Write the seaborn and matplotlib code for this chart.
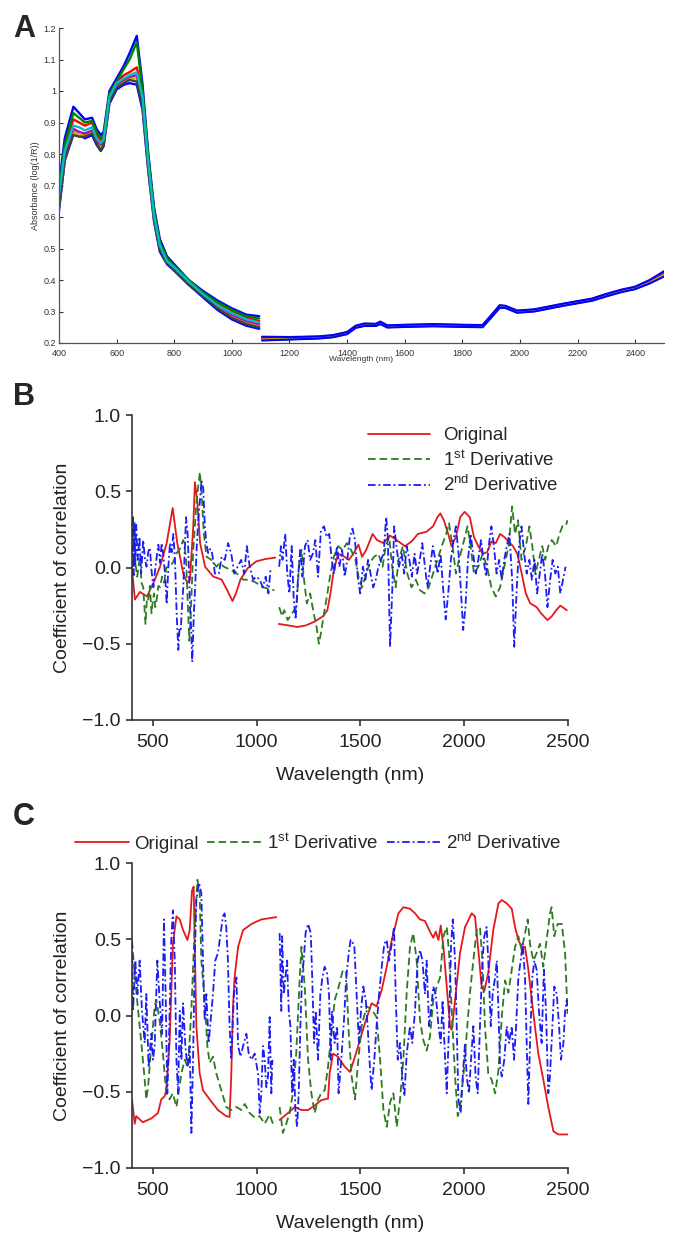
import numpy as np
import matplotlib
matplotlib.use("Agg")
import matplotlib.pyplot as plt
from matplotlib.lines import Line2D
import seaborn as sns

# ---------------- panel A : absorbance spectra ----------------
a_vis_nm = [400, 420, 450, 470, 490, 515, 530, 545, 555, 575, 600, 625, 645,
            670, 690, 710, 730, 750, 775, 800, 850, 900, 950, 1000, 1050, 1095]
a_nir_nm = [1105, 1200, 1300, 1350, 1400, 1430, 1460, 1500, 1515, 1540, 1600,
            1700, 1800, 1870, 1900, 1930, 1950, 1990, 2050, 2100, 2150, 2200,
            2250, 2300, 2350, 2400, 2450, 2500]

a_vis_1 = [0.70, 0.85, 0.95, 0.93, 0.91, 0.915, 0.88, 0.86, 0.87, 1.00, 1.04, 1.08, 1.12,
           1.175, 1.02, 0.80, 0.63, 0.53, 0.475, 0.45, 0.40, 0.365, 0.335, 0.31, 0.29, 0.285]
a_vis_2 = [0.68, 0.83, 0.93, 0.915, 0.90, 0.905, 0.87, 0.85, 0.86, 0.99, 1.03, 1.07, 1.10,
           1.155, 1.00, 0.79, 0.62, 0.52, 0.47, 0.445, 0.40, 0.36, 0.33, 0.305, 0.285, 0.278]
a_vis_3 = [0.66, 0.82, 0.91, 0.90, 0.89, 0.90, 0.86, 0.84, 0.85, 0.99, 1.03, 1.05, 1.06,
           1.075, 0.99, 0.78, 0.61, 0.515, 0.465, 0.44, 0.395, 0.36, 0.325, 0.30, 0.28, 0.27]
a_vis_4 = [0.67, 0.81, 0.89, 0.885, 0.875, 0.885, 0.85, 0.835, 0.845, 0.98, 1.025, 1.04, 1.05,
           1.06, 0.98, 0.77, 0.605, 0.51, 0.46, 0.44, 0.395, 0.355, 0.32, 0.295, 0.275, 0.265]
a_vis_5 = [0.65, 0.80, 0.88, 0.87, 0.865, 0.875, 0.845, 0.83, 0.84, 0.975, 1.02, 1.035, 1.045,
           1.05, 0.97, 0.765, 0.60, 0.505, 0.46, 0.435, 0.39, 0.355, 0.32, 0.29, 0.27, 0.26]
a_vis_6 = [0.64, 0.79, 0.87, 0.86, 0.86, 0.87, 0.84, 0.82, 0.835, 0.97, 1.015, 1.03, 1.04,
           1.04, 0.96, 0.76, 0.595, 0.50, 0.455, 0.435, 0.39, 0.35, 0.315, 0.285, 0.265, 0.255]
a_vis_7 = [0.63, 0.78, 0.86, 0.855, 0.855, 0.865, 0.835, 0.81, 0.83, 0.965, 1.01, 1.025, 1.035,
           1.03, 0.95, 0.75, 0.59, 0.495, 0.455, 0.43, 0.385, 0.35, 0.31, 0.28, 0.26, 0.25]
a_vis_8 = [0.62, 0.78, 0.87, 0.86, 0.85, 0.86, 0.83, 0.81, 0.825, 0.96, 1.005, 1.02, 1.025,
           1.02, 0.94, 0.745, 0.585, 0.49, 0.45, 0.43, 0.385, 0.345, 0.305, 0.275, 0.255, 0.245]

a_nir_1 = [0.220, 0.219, 0.221, 0.225, 0.235, 0.255, 0.262, 0.261, 0.268, 0.256, 0.258, 0.260, 0.258, 0.257,
           0.288, 0.320, 0.318, 0.303, 0.307, 0.316, 0.325, 0.333, 0.341, 0.356, 0.369, 0.379, 0.400, 0.428]
a_nir_2 = [0.218, 0.218, 0.220, 0.224, 0.234, 0.254, 0.261, 0.260, 0.267, 0.255, 0.257, 0.259, 0.257, 0.256,
           0.287, 0.319, 0.317, 0.302, 0.306, 0.315, 0.324, 0.332, 0.340, 0.355, 0.367, 0.377, 0.398, 0.425]
a_nir_3 = [0.216, 0.216, 0.219, 0.223, 0.233, 0.253, 0.259, 0.259, 0.265, 0.254, 0.256, 0.258, 0.256, 0.255,
           0.286, 0.318, 0.316, 0.301, 0.305, 0.314, 0.323, 0.331, 0.339, 0.353, 0.366, 0.376, 0.396, 0.422]
a_nir_4 = [0.214, 0.215, 0.218, 0.222, 0.232, 0.252, 0.258, 0.258, 0.264, 0.253, 0.255, 0.257, 0.255, 0.254,
           0.285, 0.317, 0.315, 0.300, 0.304, 0.313, 0.322, 0.330, 0.338, 0.352, 0.365, 0.375, 0.395, 0.420]
a_nir_5 = [0.212, 0.214, 0.217, 0.221, 0.231, 0.251, 0.257, 0.257, 0.263, 0.252, 0.254, 0.256, 0.254, 0.253,
           0.284, 0.316, 0.314, 0.299, 0.303, 0.312, 0.321, 0.329, 0.337, 0.351, 0.364, 0.374, 0.393, 0.418]
a_nir_6 = [0.211, 0.213, 0.216, 0.220, 0.230, 0.250, 0.256, 0.256, 0.262, 0.251, 0.253, 0.255, 0.253, 0.252,
           0.283, 0.315, 0.313, 0.298, 0.302, 0.311, 0.320, 0.328, 0.336, 0.350, 0.363, 0.373, 0.392, 0.416]
a_nir_7 = [0.209, 0.212, 0.215, 0.219, 0.229, 0.249, 0.255, 0.255, 0.261, 0.250, 0.252, 0.254, 0.252, 0.251,
           0.281, 0.313, 0.312, 0.297, 0.301, 0.310, 0.319, 0.327, 0.335, 0.349, 0.362, 0.372, 0.390, 0.413]
a_nir_8 = [0.208, 0.211, 0.214, 0.218, 0.228, 0.248, 0.254, 0.254, 0.260, 0.249, 0.251, 0.253, 0.251, 0.250,
           0.280, 0.312, 0.311, 0.296, 0.300, 0.309, 0.318, 0.326, 0.334, 0.348, 0.361, 0.371, 0.389, 0.411]

a_yticks = [0.2, 0.3, 0.4, 0.5, 0.6, 0.7, 0.8, 0.9, 1.0, 1.1, 1.2]
a_ytick_labels = ["0.2", "0.3", "0.4", "0.5", "0.6", "0.7", "0.8", "0.9", "1", "1.1", "1.2"]
a_xticks = [400, 600, 800, 1000, 1200, 1400, 1600, 1800, 2000, 2200, 2400]

# ---------------- panel B : correlation, set 1 ----------------
b_orig_vis_nm = [400, 405, 414, 438, 472, 510, 535, 567, 596, 618, 647, 666, 679, 695, 703, 714, 728,
                 752, 792, 832, 859, 884, 901, 922, 957, 998, 1040, 1090]
b_orig_vis = [-0.02, -0.08, -0.21, -0.16, -0.19, -0.08, 0.005, 0.16, 0.39, 0.16, -0.04, -0.10, -0.08,
              0.27, 0.56, 0.44, 0.16, 0.005, -0.06, -0.08, -0.15, -0.22, -0.17, -0.08, -0.005, 0.04,
              0.055, 0.065]
b_orig_nir_nm = [1107, 1154, 1196, 1237, 1279, 1320, 1341, 1356, 1372, 1393, 1424, 1445, 1466, 1491,
                 1508, 1528, 1559, 1580, 1611, 1642, 1674, 1715, 1746, 1777, 1819, 1850, 1871, 1885,
                 1902, 1923, 1939, 1960, 1981, 2002, 2027, 2047, 2068, 2089, 2110, 2131, 2152, 2173,
                 2193, 2214, 2235, 2256, 2277, 2297, 2318, 2349, 2370, 2401, 2422, 2443, 2463, 2494]
b_orig_nir = [-0.37, -0.38, -0.39, -0.38, -0.355, -0.32, -0.28, -0.17, -0.015, 0.09, 0.07, 0.05, 0.09,
              0.15, 0.07, 0.115, 0.22, 0.18, 0.16, 0.21, 0.18, 0.14, 0.17, 0.22, 0.235, 0.27, 0.33,
              0.355, 0.31, 0.22, 0.14, 0.20, 0.33, 0.365, 0.33, 0.20, 0.14, 0.09, 0.10, 0.17, 0.16,
              0.22, 0.20, 0.17, 0.14, 0.09, -0.04, -0.17, -0.235, -0.26, -0.30, -0.345, -0.32, -0.28,
              -0.25, -0.28]

b_d1_vis_nm = [400, 405, 414, 425, 438, 446, 454, 465, 472, 478, 486, 494, 500, 506, 512, 519, 527,
               535, 545, 555, 565, 583, 600, 615, 630, 647, 660, 668, 676, 682, 695, 711, 727, 735,
               746, 759, 783, 807, 822, 843, 874, 905, 936, 967, 998, 1030, 1061, 1086]
b_d1_vis = [0.30, 0.31, 0.05, -0.06, 0.07, -0.10, -0.13, -0.37, -0.20, -0.21, -0.12, -0.30, -0.22,
            -0.17, -0.26, -0.21, -0.12, -0.13, -0.06, -0.10, 0.0, 0.005, 0.04, 0.095, 0.12, 0.18, 0.07,
            -0.21, -0.48, -0.34, 0.115, 0.44, 0.625, 0.49, 0.22, 0.07, 0.05, 0.005, 0.03, 0.005,
            -0.015, -0.04, -0.08, -0.08, -0.10, -0.13, -0.14, -0.15]
b_d1_nir_nm = [1109, 1123, 1133, 1150, 1171, 1192, 1206, 1217, 1227, 1242, 1258, 1275, 1289, 1300,
               1310, 1325, 1341, 1356, 1372, 1393, 1414, 1435, 1455, 1476, 1491, 1508, 1524, 1545,
               1566, 1587, 1607, 1622, 1639, 1653, 1670, 1684, 1705, 1726, 1746, 1767, 1788, 1809,
               1829, 1850, 1871, 1892, 1913, 1927, 1944, 1960, 1975, 1996, 2016, 2031, 2047, 2068,
               2089, 2110, 2131, 2152, 2173, 2193, 2214, 2231, 2245, 2259, 2276, 2297, 2314, 2328,
               2343, 2359, 2376, 2390, 2405, 2422, 2443, 2459, 2473, 2488, 2498]
b_d1_nir = [-0.26, -0.32, -0.28, -0.345, -0.30, -0.26, 0.05, 0.115, -0.06, -0.235, -0.17, -0.30,
            -0.39, -0.50, -0.43, -0.30, -0.17, -0.04, 0.07, 0.14, 0.115, 0.16, 0.115, 0.05, -0.06,
            -0.13, -0.06, 0.03, 0.07, 0.09, 0.005, 0.14, 0.20, 0.005, -0.13, 0.05, 0.14, -0.04,
            -0.13, -0.08, -0.15, -0.17, -0.13, -0.04, 0.05, 0.14, 0.22, 0.29, 0.14, -0.04, 0.05,
            0.16, 0.27, 0.14, -0.04, 0.005, 0.09, 0.005, -0.13, -0.19, -0.13, 0.005, 0.14, 0.40,
            0.22, 0.31, 0.05, 0.14, 0.27, 0.14, -0.04, 0.05, 0.14, 0.05, 0.14, 0.18, 0.14, 0.22,
            0.27, 0.27, 0.31]

b_d2_vis_nm = [400, 404, 408, 412, 416, 420, 428, 436, 444, 454, 462, 470, 478, 486, 494, 503, 511,
               519, 527, 535, 543, 551, 559, 567, 575, 583, 591, 599, 607, 615, 623, 629, 635, 641,
               647, 654, 660, 668, 674, 679, 685, 690, 698, 705, 711, 719, 727, 735, 743, 751, 759,
               767, 775, 783, 791, 799, 818, 832, 847, 863, 878, 893, 909, 926, 940, 953, 967, 984,
               998, 1015, 1030, 1044, 1057, 1067]
b_d2_vis = [0.0, 0.33, -0.05, 0.30, 0.02, 0.28, 0.05, 0.20, -0.04, 0.18, 0.06, 0.005, 0.10, 0.13,
            -0.02, -0.13, -0.02, 0.07, 0.15, 0.03, 0.16, 0.08, -0.04, -0.24, 0.0, 0.16, 0.10, 0.22,
            0.05, -0.30, -0.54, -0.40, -0.41, -0.25, -0.13, 0.10, 0.33, 0.22, 0.0, -0.25, -0.40,
            -0.62, -0.30, -0.10, 0.115, 0.30, 0.44, 0.57, 0.52, 0.27, 0.15, 0.095, 0.12, 0.115,
            0.05, -0.04, -0.04, 0.07, 0.05, 0.16, 0.09, -0.04, 0.005, 0.05, -0.04, 0.14, 0.005,
            -0.08, -0.06, -0.08, -0.13, -0.06, -0.17, -0.015]
b_d2_nir_nm = [1109, 1117, 1125, 1138, 1148, 1158, 1169, 1179, 1188, 1200, 1210, 1221, 1233, 1246,
               1258, 1271, 1283, 1296, 1310, 1325, 1337, 1350, 1362, 1374, 1387, 1399, 1412, 1424,
               1437, 1449, 1462, 1474, 1487, 1499, 1512, 1524, 1537, 1549, 1562, 1574, 1587, 1599,
               1612, 1624, 1632, 1643, 1653, 1663, 1674, 1686, 1699, 1711, 1723, 1736, 1748, 1761,
               1773, 1786, 1798, 1811, 1823, 1836, 1849, 1861, 1873, 1886, 1898, 1911, 1923, 1936,
               1948, 1960, 1973, 1985, 1995, 2006, 2018, 2031, 2043, 2056, 2068, 2081, 2093, 2106,
               2118, 2131, 2143, 2156, 2168, 2181, 2193, 2205, 2218, 2231, 2241, 2252, 2264, 2276,
               2289, 2301, 2314, 2326, 2339, 2351, 2364, 2376, 2389, 2401, 2414, 2426, 2439, 2451,
               2463, 2476, 2488]
b_d2_nir = [0.005, 0.14, 0.05, 0.22, -0.04, -0.17, 0.14, -0.21, -0.34, -0.06, 0.115, -0.06, 0.14,
            0.18, 0.05, 0.09, 0.18, -0.06, 0.245, 0.27, 0.20, 0.22, 0.05, -0.04, 0.14, 0.005, 0.115,
            -0.06, 0.05, 0.20, 0.255, 0.18, -0.06, -0.17, 0.005, -0.08, 0.05, -0.04, -0.13, -0.08,
            0.005, 0.05, 0.09, 0.33, 0.20, -0.52, -0.17, 0.27, 0.14, 0.005, 0.09, -0.04, 0.14, 0.05,
            -0.06, 0.09, -0.04, 0.05, 0.16, 0.005, -0.13, 0.005, 0.14, 0.05, -0.04, 0.09, -0.13,
            -0.34, -0.17, 0.05, 0.18, 0.27, 0.09, -0.17, -0.41, -0.26, 0.05, 0.22, 0.09, -0.04,
            0.05, 0.18, 0.05, -0.06, 0.14, 0.27, 0.14, -0.04, 0.05, -0.08, 0.05, 0.14, 0.22, -0.08,
            -0.52, -0.17, 0.14, 0.27, 0.09, -0.04, 0.05, -0.08, 0.05, -0.17, -0.04, 0.09, -0.04,
            -0.26, -0.08, 0.05, -0.04, 0.005, -0.17, -0.08, 0.005]

# ---------------- panel C : correlation, set 2 ----------------
c_orig_vis_nm = [400, 413, 420, 452, 493, 525, 541, 557, 565, 581, 597, 614, 630, 646, 667, 678, 689,
                 697, 702, 710, 726, 742, 774, 814, 854, 870, 878, 886, 894, 911, 935, 975, 1023, 1095]
c_orig_vis = [-0.55, -0.71, -0.66, -0.70, -0.675, -0.64, -0.55, -0.53, -0.49, -0.18, 0.47, 0.65,
              0.63, 0.56, 0.495, 0.56, 0.82, 0.845, 0.47, -0.07, -0.38, -0.49, -0.55, -0.62, -0.66,
              -0.665, -0.40, 0.04, 0.25, 0.45, 0.56, 0.60, 0.63, 0.645]
c_orig_nir_nm = [1111, 1151, 1184, 1216, 1248, 1280, 1312, 1344, 1352, 1368, 1392, 1424, 1450, 1474,
                 1498, 1522, 1554, 1578, 1603, 1627, 1651, 1667, 1683, 1707, 1739, 1763, 1787, 1811,
                 1835, 1851, 1863, 1876, 1887, 1900, 1916, 1932, 1940, 1956, 1980, 2004, 2036, 2052,
                 2068, 2084, 2097, 2116, 2140, 2165, 2181, 2205, 2229, 2245, 2261, 2277, 2293, 2309,
                 2333, 2357, 2381, 2405, 2430, 2454, 2498]
c_orig_nir = [-0.685, -0.64, -0.60, -0.62, -0.62, -0.59, -0.555, -0.545, -0.38, -0.25, -0.27, -0.335,
              -0.37, -0.27, -0.16, -0.05, 0.08, 0.06, 0.17, 0.32, 0.495, 0.58, 0.67, 0.71, 0.70,
              0.67, 0.63, 0.62, 0.55, 0.51, 0.55, 0.495, 0.59, 0.45, 0.19, -0.07, -0.095, 0.10,
              0.41, 0.58, 0.67, 0.65, 0.43, 0.19, 0.16, 0.28, 0.56, 0.735, 0.757, 0.735, 0.70, 0.58,
              0.495, 0.45, 0.45, 0.30, 0.015, -0.25, -0.42, -0.60, -0.76, -0.78, -0.78]

c_d1_vis_nm = [400, 413, 429, 445, 461, 469, 477, 493, 509, 517, 533, 549, 565, 581, 597, 614, 638,
               654, 670, 686, 702, 715, 726, 734, 750, 763, 774, 790, 806, 830, 854, 878, 903, 927,
               943, 967, 991, 1015, 1039, 1063, 1079, 1090]
c_d1_vis = [0.49, 0.27, 0.04, -0.18, -0.42, -0.55, -0.47, -0.20, 0.06, 0.10, -0.03, -0.25, -0.51,
            -0.55, -0.51, -0.60, -0.38, -0.29, -0.34, 0.04, 0.58, 0.89, 0.80, 0.36, 0.10, -0.20,
            -0.31, -0.27, -0.38, -0.49, -0.60, -0.62, -0.60, -0.62, -0.58, -0.64, -0.67, -0.66,
            -0.71, -0.65, -0.71, -0.69]
c_d1_nir_nm = [1111, 1127, 1143, 1159, 1175, 1191, 1208, 1216, 1232, 1248, 1264, 1280, 1296, 1312,
               1328, 1344, 1360, 1376, 1392, 1416, 1432, 1442, 1458, 1474, 1490, 1506, 1530, 1554,
               1578, 1595, 1611, 1627, 1643, 1659, 1675, 1691, 1707, 1723, 1739, 1755, 1771, 1787,
               1803, 1819, 1835, 1851, 1868, 1884, 1900, 1916, 1927, 1940, 1956, 1969, 1980, 1996,
               2012, 2028, 2044, 2060, 2076, 2088, 2100, 2116, 2132, 2149, 2165, 2181, 2197, 2213,
               2229, 2245, 2261, 2277, 2293, 2306, 2317, 2333, 2349, 2365, 2381, 2397, 2413, 2421,
               2434, 2450, 2470, 2486, 2498]
c_d1_nir = [-0.60, -0.77, -0.71, -0.64, -0.51, -0.25, 0.25, 0.45, 0.19, -0.29, -0.51, -0.64, -0.55,
            -0.51, -0.49, -0.34, -0.12, 0.10, 0.17, 0.30, 0.28, -0.07, -0.40, -0.55, -0.29, -0.07,
            0.06, 0.04, -0.01, -0.29, -0.62, -0.73, -0.57, -0.51, -0.73, -0.55, -0.29, 0.15, 0.45,
            0.54, 0.36, -0.03, -0.16, -0.23, -0.14, 0.10, 0.19, 0.25, 0.52, 0.58, 0.41, 0.03, -0.40,
            -0.66, -0.60, -0.40, -0.12, 0.15, 0.36, 0.56, 0.58, 0.36, -0.07, -0.38, -0.42, -0.51,
            -0.36, -0.01, 0.23, 0.15, 0.30, 0.45, 0.52, 0.43, 0.54, 0.63, 0.47, 0.36, 0.41, 0.47,
            0.32, 0.495, 0.67, 0.71, 0.52, 0.60, 0.60, 0.41, 0.01]

c_d2_vis_nm = [400, 405, 416, 426, 437, 448, 461, 469, 480, 493, 501, 509, 522, 533, 545, 554, 562,
               570, 578, 589, 597, 606, 614, 622, 630, 638, 646, 657, 667, 678, 686, 694, 702, 710,
               723, 734, 742, 750, 758, 769, 779, 790, 801, 814, 827, 838, 846, 854, 862, 870, 878,
               891, 903, 911, 923, 935, 951, 962, 975, 991, 1007, 1015, 1023, 1031, 1039, 1047,
               1055, 1063, 1071, 1076]
c_d2_vis = [0.49, 0.03, 0.36, 0.14, 0.36, 0.03, -0.18, 0.14, -0.34, -0.12, -0.29, -0.20, 0.36, 0.10,
            -0.12, 0.63, 0.14, -0.51, -0.18, 0.495, 0.69, 0.36, -0.29, -0.51, 0.03, -0.29, 0.08,
            -0.20, -0.34, -0.20, -0.77, -0.29, 0.36, 0.76, 0.87, 0.80, 0.36, -0.03, 0.14, -0.18,
            -0.03, 0.14, 0.36, 0.41, 0.54, 0.65, 0.67, 0.58, 0.36, -0.07, -0.29, 0.14, 0.25, -0.20,
            -0.27, -0.20, -0.12, -0.25, -0.29, -0.25, -0.38, -0.64, -0.51, -0.20, -0.29, -0.47,
            -0.40, -0.01, -0.51, -0.29]
c_d2_nir_nm = [1111, 1119, 1123, 1131, 1139, 1147, 1155, 1163, 1171, 1179, 1187, 1195, 1203, 1211,
               1219, 1227, 1236, 1248, 1261, 1268, 1277, 1285, 1296, 1307, 1317, 1328, 1339, 1349,
               1357, 1363, 1376, 1388, 1395, 1408, 1421, 1432, 1444, 1453, 1458, 1471, 1482, 1493,
               1503, 1514, 1526, 1535, 1546, 1554, 1567, 1578, 1590, 1603, 1615, 1627, 1638, 1651,
               1662, 1670, 1680, 1691, 1702, 1712, 1723, 1739, 1750, 1763, 1776, 1787, 1799, 1811,
               1819, 1831, 1840, 1851, 1863, 1876, 1887, 1896, 1908, 1916, 1927, 1937, 1945, 1956,
               1964, 1972, 1983, 1993, 2004, 2012, 2023, 2033, 2044, 2055, 2065, 2076, 2088, 2097,
               2108, 2116, 2128, 2137, 2149, 2157, 2165, 2173, 2181, 2193, 2205, 2216, 2229, 2240,
               2250, 2261, 2272, 2282, 2293, 2301, 2309, 2317, 2328, 2338, 2349, 2360, 2373, 2384,
               2394, 2405, 2413, 2425, 2434, 2446, 2457, 2466, 2478, 2486, 2494, 2498]
c_d2_nir = [0.54, 0.03, 0.52, 0.14, 0.25, 0.36, 0.03, -0.07, -0.51, -0.29, -0.62, -0.73, -0.51, -0.07,
            0.25, 0.36, 0.54, 0.60, 0.54, 0.25, -0.18, 0.03, -0.29, 0.14, 0.25, 0.32, 0.28, 0.14,
            -0.29, 0.03, -0.18, -0.07, -0.51, -0.29, -0.03, 0.25, 0.41, 0.495, 0.495, 0.45, 0.14,
            -0.18, 0.03, 0.19, 0.10, -0.07, -0.34, -0.49, -0.29, -0.07, 0.14, 0.32, 0.47, 0.495,
            0.36, 0.47, 0.58, 0.14, -0.29, -0.18, -0.40, -0.53, -0.25, -0.07, -0.18, 0.03, 0.36,
            0.43, 0.36, 0.14, 0.36, -0.07, 0.03, 0.19, 0.14, -0.07, -0.18, 0.10, -0.29, -0.51, -0.07,
            0.47, 0.63, 0.36, -0.07, -0.55, -0.64, -0.40, -0.18, -0.40, -0.51, -0.29, -0.07, -0.40,
            -0.51, -0.07, 0.36, 0.52, 0.58, 0.36, -0.07, 0.14, 0.25, 0.36, 0.03, -0.34, -0.40, -0.29,
            -0.07, -0.18, -0.07, -0.29, -0.07, 0.25, 0.36, 0.47, 0.25, -0.18, -0.58, -0.18, 0.25,
            0.36, 0.30, 0.03, -0.18, 0.30, 0.03, -0.51, -0.40, -0.07, 0.19, 0.14, -0.07, -0.29,
            -0.18, 0.03, 0.10, 0.03]

series_labels = ["Original", r"1$^{\mathrm{st}}$ Derivative", r"2$^{\mathrm{nd}}$ Derivative"]
corr_xticks = [500, 1000, 1500, 2000, 2500]
corr_yticks = [-1.0, -0.5, 0.0, 0.5, 1.0]

# ---------------- style ----------------
sns.set_style("ticks")
plt.rcParams["font.family"] = ["Liberation Sans", "DejaVu Sans"]
plt.rcParams["mathtext.fontset"] = "custom"
plt.rcParams["mathtext.rm"] = "Liberation Sans"
plt.rcParams["mathtext.it"] = "Liberation Sans:italic"
plt.rcParams["mathtext.bf"] = "Liberation Sans:bold"

RED = "#e3191c"
GREEN = "#2e7a20"
BLUE = "#1c1cf5"
DASH = (0, (4.2, 2.2))
DASHDOT = (0, (4.2, 1.6, 1.0, 1.6))
matlab_cols = [(0, 0, 1), (0, 0.5, 0), (1, 0, 0), (0, 0.75, 0.75),
               (0.75, 0, 0.75), (0.75, 0.75, 0), (0.25, 0.25, 0.25), (0, 0, 1)]

W, H = 676, 1249
fig = plt.figure(figsize=(W / 100, H / 100), dpi=100)
axA = fig.add_axes([59 / W, 1 - 343 / H, 605 / W, 315 / H])
axB = fig.add_axes([132 / W, 1 - 720 / H, 436 / W, 305 / H])
axC = fig.add_axes([132 / W, 1 - 1168 / H, 436 / W, 305 / H])

# panel A
vis_list = [a_vis_1, a_vis_2, a_vis_3, a_vis_4, a_vis_5, a_vis_6, a_vis_7, a_vis_8]
nir_list = [a_nir_1, a_nir_2, a_nir_3, a_nir_4, a_nir_5, a_nir_6, a_nir_7, a_nir_8]
order = [7, 0, 5, 2, 4, 1, 6, 3]
for i in order:
    sns.lineplot(x=a_vis_nm, y=vis_list[i], color=matlab_cols[i], linewidth=1.7, ax=axA)
# NIR curves sit almost on top of each other: draw them in a different order
for i in [3, 6, 1, 4, 2, 5, 0, 7]:
    sns.lineplot(x=a_nir_nm, y=nir_list[i], color=matlab_cols[i], linewidth=1.5, ax=axA)

axA.set_xlim(400, 2500)
axA.set_ylim(0.2, 1.2)
axA.set_xticks(a_xticks)
axA.set_yticks(a_yticks)
axA.set_yticklabels(a_ytick_labels)
sns.despine(ax=axA)
for s in ["left", "bottom"]:
    axA.spines[s].set_color("#555555")
    axA.spines[s].set_linewidth(0.9)
axA.tick_params(axis="x", direction="in", length=3, width=0.8, labelsize=6.5, colors="#333333", pad=4)
axA.tick_params(axis="y", direction="in", length=3, width=0.8, labelsize=6.5, colors="#333333", pad=2)
axA.set_xlabel("Wavelength (nm)", fontsize=6, color="#333333")
axA.set_ylabel("Absorbance (log(1/R))", fontsize=6.5, color="#333333")
axA.xaxis.set_label_coords(0.5, -0.042)
axA.yaxis.set_label_coords(-0.031, 0.5)


def corr_panel(ax, orig, d1, d2):
    for (nm, vals) in orig:
        sns.lineplot(x=nm, y=vals, color=RED, linewidth=1.3, ax=ax)
    for (nm, vals) in d1:
        sns.lineplot(x=nm, y=vals, color=GREEN, linewidth=1.3, linestyle=DASH, ax=ax)
    for (nm, vals) in d2:
        sns.lineplot(x=nm, y=vals, color=BLUE, linewidth=1.3, linestyle=DASHDOT, ax=ax)
    ax.set_xlim(400, 2500)
    ax.set_ylim(-1.0, 1.0)
    ax.set_xticks(corr_xticks)
    ax.set_yticks(corr_yticks)
    ax.set_yticklabels(["\u22121.0", "\u22120.5", "0.0", "0.5", "1.0"])
    sns.despine(ax=ax)
    for s in ["left", "bottom"]:
        ax.spines[s].set_color("#333333")
        ax.spines[s].set_linewidth(1.2)
    ax.tick_params(axis="x", direction="out", length=4, width=1.1, labelsize=14, pad=6, colors="#222222")
    ax.tick_params(axis="y", direction="out", length=4, width=1.1, labelsize=14, pad=4, colors="#222222")
    ax.set_xlabel("Wavelength (nm)", fontsize=14, color="#222222")
    ax.set_ylabel("Coefficient of correlation", fontsize=14, color="#222222")
    ax.xaxis.set_label_coords(0.5, -0.155)
    ax.yaxis.set_label_coords(-0.14, 0.5)


corr_panel(axB, [(b_orig_vis_nm, b_orig_vis), (b_orig_nir_nm, b_orig_nir)],
           [(b_d1_vis_nm, b_d1_vis), (b_d1_nir_nm, b_d1_nir)],
           [(b_d2_vis_nm, b_d2_vis), (b_d2_nir_nm, b_d2_nir)])
corr_panel(axC, [(c_orig_vis_nm, c_orig_vis), (c_orig_nir_nm, c_orig_nir)],
           [(c_d1_vis_nm, c_d1_vis), (c_d1_nir_nm, c_d1_nir)],
           [(c_d2_vis_nm, c_d2_vis), (c_d2_nir_nm, c_d2_nir)])

handles = [Line2D([], [], color=RED, lw=1.3),
           Line2D([], [], color=GREEN, lw=1.3, linestyle=DASH),
           Line2D([], [], color=BLUE, lw=1.3, linestyle=DASHDOT)]

axB.legend(handles, series_labels, loc="upper left", bbox_to_anchor=(0.541, 0.96),
           frameon=False, fontsize=13.5, handlelength=3.3, handletextpad=0.7,
           labelspacing=0.3, borderpad=0, borderaxespad=0)
axC.legend(handles, series_labels, loc="center left", bbox_to_anchor=(-0.131, 1.066),
           frameon=False, fontsize=13.5, ncol=3, handlelength=2.9, handletextpad=0.28,
           columnspacing=0.45, borderpad=0, borderaxespad=0)

for letter, yb in [("A", 37), ("B", 405), ("C", 825)]:
    fig.text(13 / W, 1 - yb / H, letter, fontsize=22, fontweight="bold", ha="left", va="baseline")

fig.savefig("out.png", dpi=100, facecolor="white")
